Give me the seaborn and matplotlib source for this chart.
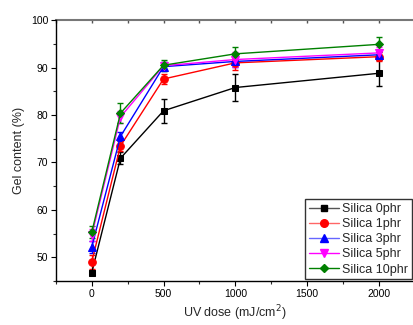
import numpy as np
import pandas as pd
import matplotlib
matplotlib.use("Agg")
import matplotlib.pyplot as plt
import seaborn as sns
from matplotlib.ticker import MultipleLocator
from matplotlib.lines import Line2D

dose = [0, 200, 500, 1000, 2000]
series_names = ["Silica 0phr", "Silica 1phr", "Silica 3phr", "Silica 5phr", "Silica 10phr"]
gel_0 = [46.8, 70.9, 80.9, 85.8, 88.8]
gel_1 = [49.1, 73.5, 87.6, 91.0, 92.3]
gel_3 = [52.2, 75.5, 90.2, 91.3, 92.7]
gel_5 = [54.7, 79.6, 90.4, 91.7, 93.1]
gel_10 = [55.3, 80.4, 90.5, 92.9, 94.9]
err_0 = [0.5, 1.3, 2.5, 2.9, 2.7]
err_1 = [1.5, 1.0, 1.0, 1.5, 1.0]
err_3 = [1.2, 1.0, 1.0, 1.2, 0.8]
err_5 = [1.2, 1.2, 0.8, 1.5, 1.2]
err_10 = [1.3, 2.1, 1.2, 1.4, 1.6]

values = [gel_0, gel_1, gel_3, gel_5, gel_10]
errors = [err_0, err_1, err_3, err_5, err_10]
colors = ["#000000", "#FF0000", "#0000FF", "#FF00FF", "#008000"]
markers = ["s", "o", "^", "v", "D"]
msizes = [5, 5.5, 5.5, 5.5, 4.5]

df = pd.DataFrame({
    "dose": np.tile(dose, len(series_names)),
    "gel": np.concatenate(values),
    "series": np.repeat(series_names, len(dose)),
})

sns.set_theme(style="ticks")
plt.rcParams["font.family"] = ["Liberation Sans", "DejaVu Sans"]

fig = plt.figure(figsize=(4.14, 3.25), dpi=100)
ax = fig.add_axes([0.135, 0.135, 0.865, 0.803])

for name, vals, errs, c, m, ms in zip(series_names, values, errors, colors, markers, msizes):
    sub = df[df["series"] == name]
    ax.errorbar(dose, vals, yerr=errs, fmt="none", ecolor=c, elinewidth=1.0,
                capsize=2.5, capthick=1.0, zorder=2)
    sns.lineplot(data=sub, x="dose", y="gel", ax=ax, color=c, marker=m,
                 markersize=ms, markeredgecolor=c, linewidth=1.0, legend=False,
                 zorder=3)

ax.set_xlim(-250, 2245)
ax.set_ylim(45, 100)
ax.xaxis.set_major_locator(MultipleLocator(500))
ax.xaxis.set_minor_locator(MultipleLocator(250))
ax.yaxis.set_major_locator(MultipleLocator(10))
ax.yaxis.set_minor_locator(MultipleLocator(5))

ax.tick_params(axis="both", which="major", direction="out", length=3.5, width=0.8,
               labelsize=7.5, colors="black", pad=2)
ax.tick_params(axis="both", which="minor", direction="out", length=2, width=0.8)
ax.tick_params(axis="x", which="both", top=False)

for s in ["left", "bottom"]:
    ax.spines[s].set_color("black")
    ax.spines[s].set_linewidth(1.0)
ax.spines["top"].set_visible(False)
ax.spines["right"].set_visible(False)

top = ax.secondary_xaxis("top")
top.xaxis.set_major_locator(MultipleLocator(250))
top.tick_params(axis="x", which="both", direction="in", length=2.5, width=1.0,
                labeltop=False, colors="#555555")
top.spines["top"].set_color("#777777")
top.spines["top"].set_linewidth(1.5)

ax.set_xlabel("UV dose (mJ/cm$^2$)", fontsize=9, labelpad=3)
ax.set_ylabel("Gel content (%)", fontsize=9, labelpad=4)

handles = [Line2D([0], [0], color=c, marker=m, markersize=ms, linewidth=1.0)
           for c, m, ms in zip(colors, markers, msizes)]
handles[1].set_color("#FF6666"); handles[1].set_markerfacecolor("#FF0000"); handles[1].set_markeredgecolor("#FF0000")
handles[2].set_color("#6666FF"); handles[2].set_markerfacecolor("#0000FF"); handles[2].set_markeredgecolor("#0000FF")
handles[0].set_color("#555555"); handles[0].set_markerfacecolor("#000000"); handles[0].set_markeredgecolor("#000000")
leg = ax.legend(handles, series_names, loc="lower right", bbox_to_anchor=(1.0, 0.0),
                fontsize=9, frameon=True, fancybox=False, edgecolor="black",
                handlelength=2.4, handletextpad=0.3, labelspacing=0.25,
                borderpad=0.3, borderaxespad=0.15)
leg.get_frame().set_linewidth(1.0)

fig.savefig("out.png", dpi=100)
